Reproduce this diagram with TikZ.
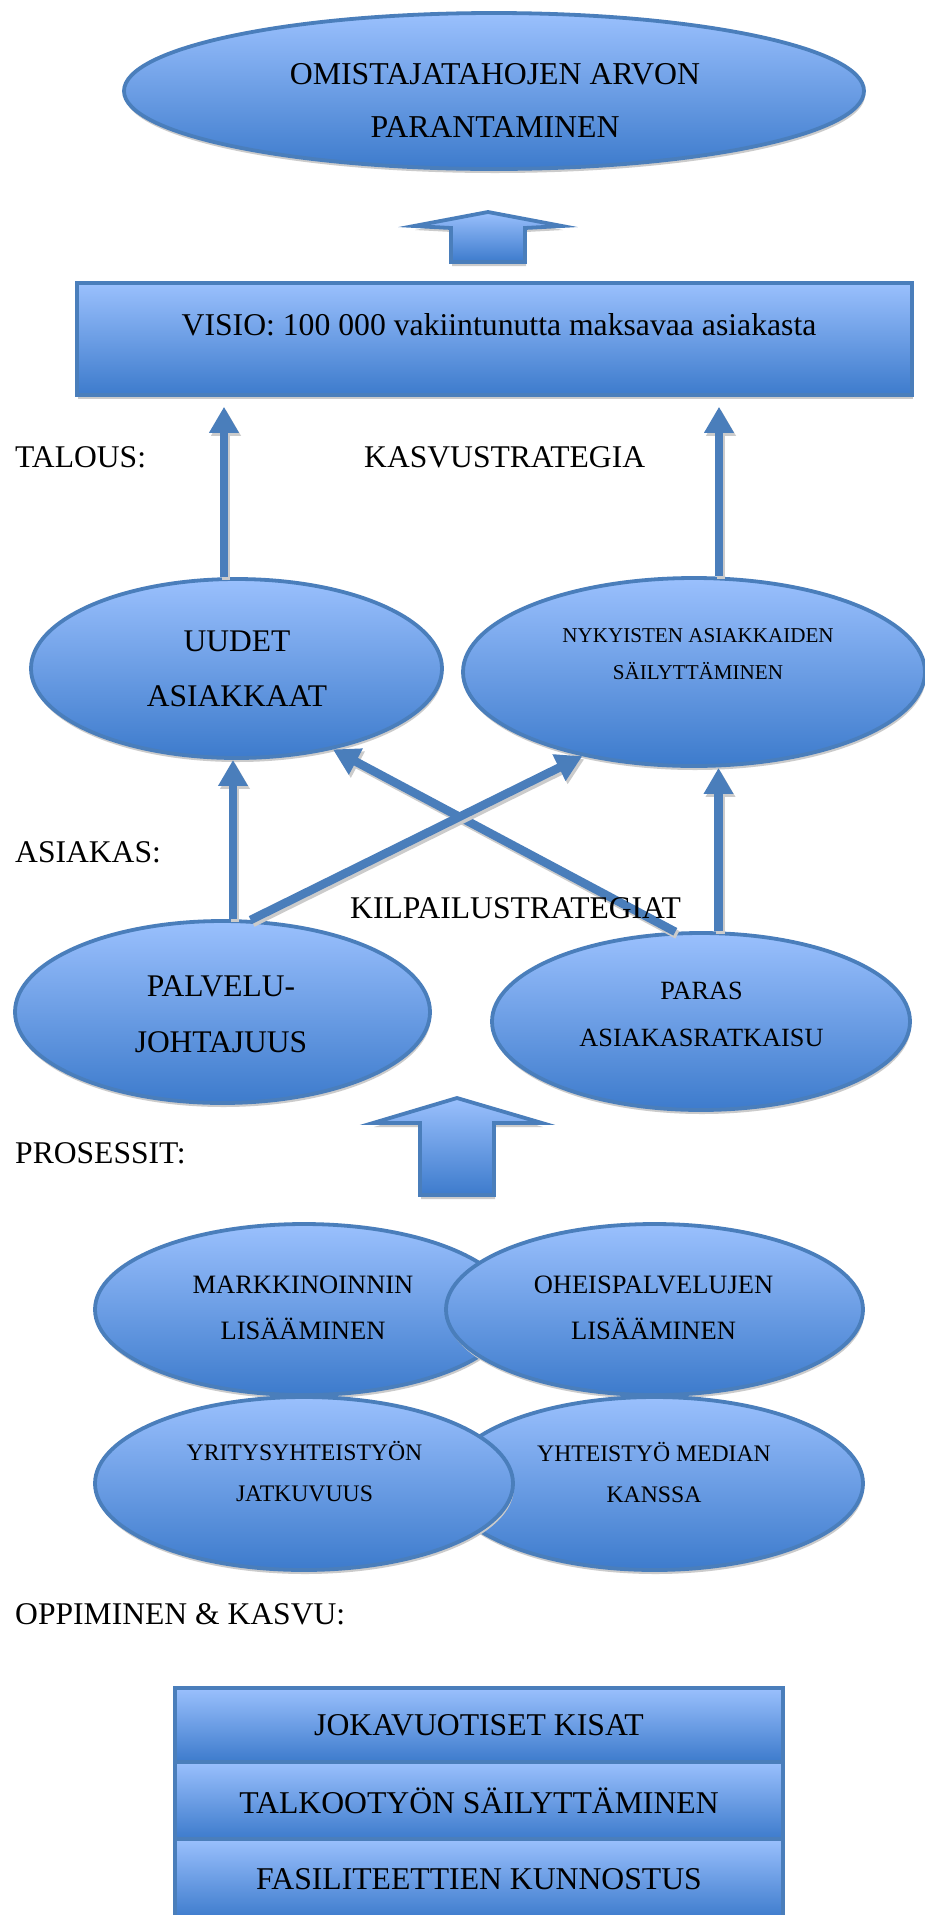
\documentclass[tikz,border=0pt]{standalone}
\usepackage{fontspec}
\setmainfont{Liberation Serif}
\usetikzlibrary{shapes.geometric,arrows.meta,shadows,calc}
\definecolor{bord}{HTML}{4A7EBB}
\definecolor{ltop}{HTML}{9AC0FD}
\definecolor{lbot}{HTML}{3D7BCC}
\definecolor{shd}{HTML}{CBCBCB}
\tikzset{
 shad/.style={drop shadow={shadow xshift=1pt, shadow yshift=-4pt, fill=shd, opacity=1}},
 ell/.style={ellipse, draw=bord, line width=3.8pt, top color=ltop, bottom color=lbot, inner sep=0pt, shad},
 boxr/.style={rectangle, draw=bord, line width=3.5pt, top color=ltop, bottom color=lbot, inner sep=0pt, shad},
 barrow/.style={draw=bord, line width=3.8pt, line join=miter, top color=ltop, bottom color=lbot, shad},
 conn/.style={draw=bord, line width=8.5pt, -{Triangle[length=26pt,width=28pt]},
   preaction={draw=shd, line width=8.5pt, transform canvas={xshift=2pt,yshift=-3pt}}},
 txt/.style={inner sep=0pt, align=center},
 lbl/.style={inner sep=0pt, anchor=west, font=\fontsize{31.6}{38}\selectfont},
}
\begin{document}
\begin{tikzpicture}[x=1pt,y=-1pt]
\useasboundingbox[fill=white] (0,0) rectangle (925,1915);

% top goal
\node[ell, minimum width=740pt, minimum height=156pt] (goal) at (494,91) {};
\node[txt, font=\fontsize{31.8}{53}\selectfont] (goalt) at (495,100) {OMISTAJATAHOJEN ARVON\\PARANTAMINEN};

% block arrow 1
\path[barrow] (488,212) -- (562,226) -- (525,228) -- (525,262) -- (451,262) -- (451,228) -- (414,226) -- cycle;

% vision
\node[boxr, minimum width=835pt, minimum height=112pt] (visio) at (494.5,339) {};
\node[txt, font=\fontsize{31.7}{38}\selectfont] (visiot) at (499,325) {VISIO: 100 000 vakiintunutta maksavaa asiakasta};

\node[lbl] (talous) at (15,457) {TALOUS:};
\node[lbl] (kasvu) at (364,457) {KASVUSTRATEGIA};

% level 2
\node[ell, minimum width=411pt, minimum height=179pt] (uudet) at (236.5,668.5) {};
\node[txt, font=\fontsize{31.5}{55}\selectfont] (uudett) at (237,668.5) {UUDET\\ASIAKKAAT};
\node[ell, minimum width=462pt, minimum height=188pt] (nyk) at (694,672) {};
\node[txt, font=\fontsize{21.1}{37}\selectfont] (nykt) at (698,654) {NYKYISTEN ASIAKKAIDEN\\SÄILYTTÄMINEN};

\draw[conn] ([xshift=-12.5pt]uudet.north) -- ([xshift=-12.5pt,yshift=-10pt]uudet.north |- visio.south);
\draw[conn] ([xshift=25pt]nyk.north) -- ([xshift=25pt,yshift=-10pt]nyk.north |- visio.south);

\node[lbl] (asiakas) at (15,852.5) {ASIAKAS:};

% level 3
\node[ell, minimum width=415pt, minimum height=182pt] (palv) at (222.5,1012) {};
\node[txt, font=\fontsize{31.5}{55.5}\selectfont] (palvt) at (221,1014) {PALVELU-\\JOHTAJUUS};
\node[ell, minimum width=418pt, minimum height=177pt] (paras) at (701,1021.5) {};
\node[txt, font=\fontsize{26.3}{47}\selectfont] (parast) at (701.5,1014.5) {PARAS\\ASIAKASRATKAISU};

\draw[conn] (paras.106) -- (uudet.320);
\draw[conn] (palv.73) -- (nyk.217);
\draw[conn] ([xshift=10.5pt]palv.north) -- ([xshift=10.5pt]palv.north |- uudet.south);
\draw[conn] ([xshift=17.5pt]paras.north) -- ([xshift=17.5pt]paras.north |- nyk.south);

\node[lbl] (kilp) at (350,908) {KILPAILUSTRATEGIAT};

% block arrow 2
\path[barrow] (457,1098) -- (542,1123) -- (494,1123) -- (494,1195) -- (420,1195) -- (420,1123) -- (373,1123) -- cycle;

\node[lbl] (pros) at (15,1153) {PROSESSIT:};

% processes
\node[ell, minimum width=418pt, minimum height=171pt] (mark) at (304,1309.5) {};
\node[txt, font=\fontsize{26.5}{46}\selectfont] (markt) at (303,1308) {MARKKINOINNIN\\LISÄÄMINEN};
\node[ell, minimum width=417pt, minimum height=171pt] (ohei) at (654.5,1309.5) {};
\node[txt, font=\fontsize{26.5}{46}\selectfont] (oheit) at (653.5,1308) {OHEISPALVELUJEN\\LISÄÄMINEN};
\node[ell, minimum width=417pt, minimum height=173pt] (yht) at (654.5,1483.5) {};
\node[txt, font=\fontsize{23.7}{41}\selectfont] (yhtt) at (654,1472) {YHTEISTYÖ MEDIAN\\KANSSA};
\node[ell, minimum width=418pt, minimum height=173pt] (yrit) at (304,1483.5) {};
\node[txt, font=\fontsize{23.7}{41}\selectfont] (yritt) at (304.5,1472) {YRITYSYHTEISTYÖN\\JATKUVUUS};

\node[lbl] (opp) at (15,1614) {OPPIMINEN \& KASVU:};

% learning & growth
\node[boxr, minimum width=608pt, minimum height=74pt, font=\fontsize{31.7}{38}\selectfont] (r1) at (479,1725) {JOKAVUOTISET KISAT};
\node[boxr, minimum width=608pt, minimum height=77pt, font=\fontsize{31.7}{38}\selectfont] (r2) at (479,1800.5) {TALKOOTYÖN SÄILYTTÄMINEN};
\node[boxr, minimum width=608pt, minimum height=80pt, font=\fontsize{31.7}{38}\selectfont] (r3) at (479,1879) {FASILITEETTIEN KUNNOSTUS};
\end{tikzpicture}
\end{document}
